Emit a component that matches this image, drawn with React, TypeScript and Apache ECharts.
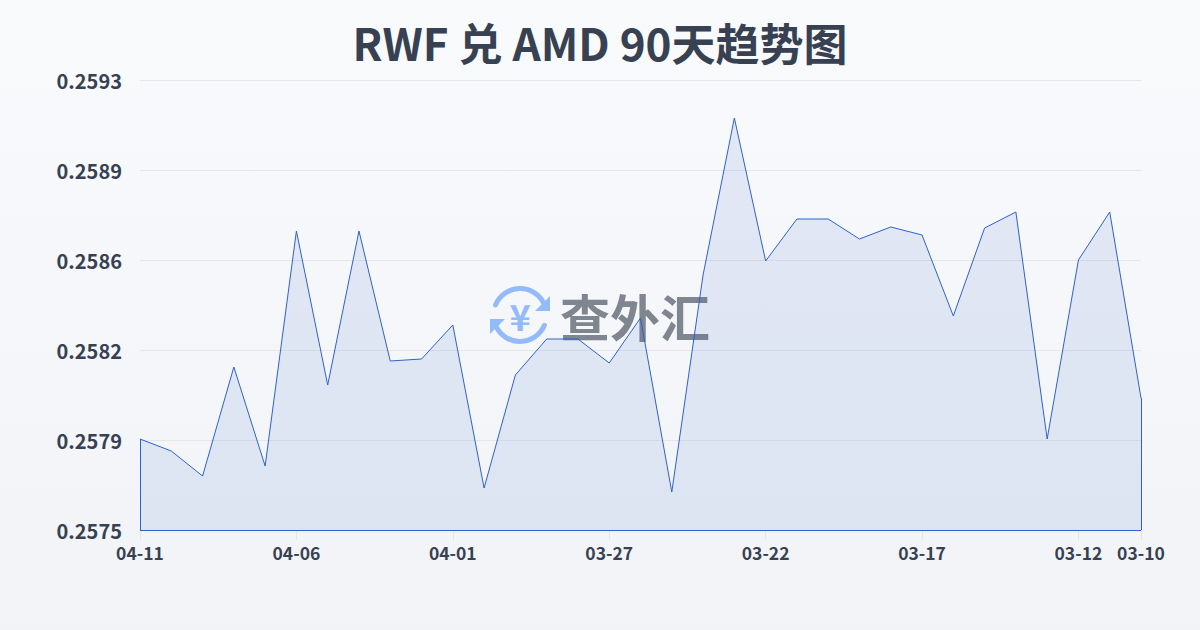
import React, { useEffect, useRef } from "react";
import * as echarts from "echarts";

const titleText = "RWF 兑 AMD 90天趋势图";
const dates = ["04-11","04-10","04-09","04-08","04-07","04-06","04-05","04-04","04-03","04-02","04-01","03-31","03-30","03-29","03-28","03-27","03-26","03-25","03-24","03-23","03-22","03-21","03-20","03-19","03-18","03-17","03-16","03-15","03-14","03-13","03-12","03-11","03-10"];
const rates = [0.257864,0.257816,0.257716,0.258152,0.257756,0.258696,0.25808,0.258696,0.258176,0.258184,0.25832,0.257668,0.25812,0.258264,0.258264,0.258168,0.258348,0.257652,0.25852,0.259148,0.258576,0.258744,0.258744,0.258664,0.258712,0.25868,0.258356,0.258708,0.258772,0.257864,0.25858,0.258772,0.258028];
const yTicks = [0.2575,0.25786,0.25822,0.25858,0.25894,0.2593];
const yMin = 0.2575;
const yMax = 0.2593;
const font = "'Noto Sans CJK SC','Noto Sans',sans-serif";

export default function App() {
  const ref = useRef<HTMLDivElement>(null);
  useEffect(() => {
    document.body.style.margin = "0";
    const chart = echarts.init(ref.current!, undefined, { renderer: "svg" });
    const lastIdx = dates.length - 1;
    const showTick = (i: number) => i % 5 === 0 || i === lastIdx;
    const edgeStyle = { color: "#2f62c8", width: 1, type: "solid" };
    const blue = "#94bbf9";
    chart.setOption({
      animation: false,
      backgroundColor: {
        type: "linear", x: 0, y: 0, x2: 0, y2: 1,
        colorStops: [{ offset: 0, color: "#f8fafc" }, { offset: 1, color: "#f1f3f7" }],
      },
      title: {
        text: titleText, left: "center", top: 15,
        textStyle: { fontFamily: font, fontSize: 44, fontWeight: "bold", color: "#374151" },
      },
      grid: { left: 140, right: 59, top: 80, bottom: 100, containLabel: false },
      xAxis: {
        type: "category", data: dates, boundaryGap: false,
        axisLine: { show: false },
        axisTick: { show: true, length: 10, interval: (i: number) => showTick(i), lineStyle: { color: "#e2e5ea" } },
        axisLabel: {
          interval: (i: number) => showTick(i), margin: 14, hideOverlap: false,
          fontFamily: font, fontSize: 17.5, fontWeight: "bold", color: "#374151",
        },
      },
      yAxis: {
        type: "value", min: yMin, max: yMax,
        axisLine: { show: false },
        axisTick: { show: false, customValues: yTicks },
        axisLabel: {
          customValues: yTicks, margin: 18,
          formatter: (v: number) => v.toFixed(4),
          fontFamily: font, fontSize: 20, fontWeight: "bold", color: "#374151",
        },
        splitLine: { show: true, lineStyle: { color: "#e5e7eb", width: 1 } },
      },
      series: [{
        type: "line", data: rates, symbol: "none", smooth: false, z: 3,
        lineStyle: { color: "#2f62c8", width: 1 },
        areaStyle: { color: "rgba(47,98,200,0.15)", origin: "start" },
        markLine: {
          silent: true, symbol: "none", label: { show: false }, animation: false,
          lineStyle: edgeStyle,
          data: [
            [{ xAxis: dates[0], yAxis: yMin }, { xAxis: dates[lastIdx], yAxis: yMin }],
            [{ xAxis: dates[0], yAxis: yMin }, { xAxis: dates[0], yAxis: rates[0] }],
            [{ xAxis: dates[lastIdx], yAxis: yMin }, { xAxis: dates[lastIdx], yAxis: rates[lastIdx] }],
          ],
        },
      }],
      graphic: [
        { type: "arc", z: 1, silent: true, shape: { cx: 520, cy: 315, r: 26.5, startAngle: -2.75, endAngle: -0.45 }, style: { stroke: blue, lineWidth: 5, fill: "none", lineCap: "round" } },
        { type: "arc", z: 1, silent: true, shape: { cx: 520, cy: 315, r: 26.5, startAngle: 0.4, endAngle: 2.7 }, style: { stroke: blue, lineWidth: 5, fill: "none", lineCap: "round" } },
        { type: "polygon", z: 1, silent: true, shape: { points: [[535, 311], [550, 311], [550, 296]] }, style: { fill: blue } },
        { type: "polygon", z: 1, silent: true, shape: { points: [[490, 319], [505, 319], [490, 334]] }, style: { fill: blue } },
        { type: "text", z: 1, silent: true, style: { x: 520, y: 315, text: "¥", align: "center", verticalAlign: "middle", fontFamily: font, fontSize: 36, fontWeight: "bold", fill: blue } },
        { type: "text", z: 1, silent: true, style: { x: 560, y: 315, text: "查外汇", align: "left", verticalAlign: "middle", fontFamily: font, fontSize: 50, fontWeight: "bold", fill: "#7f8690" } },
      ],
    });
    return () => chart.dispose();
  }, []);
  return <div ref={ref} style={{ width: 1200, height: 630 }} />;
}
